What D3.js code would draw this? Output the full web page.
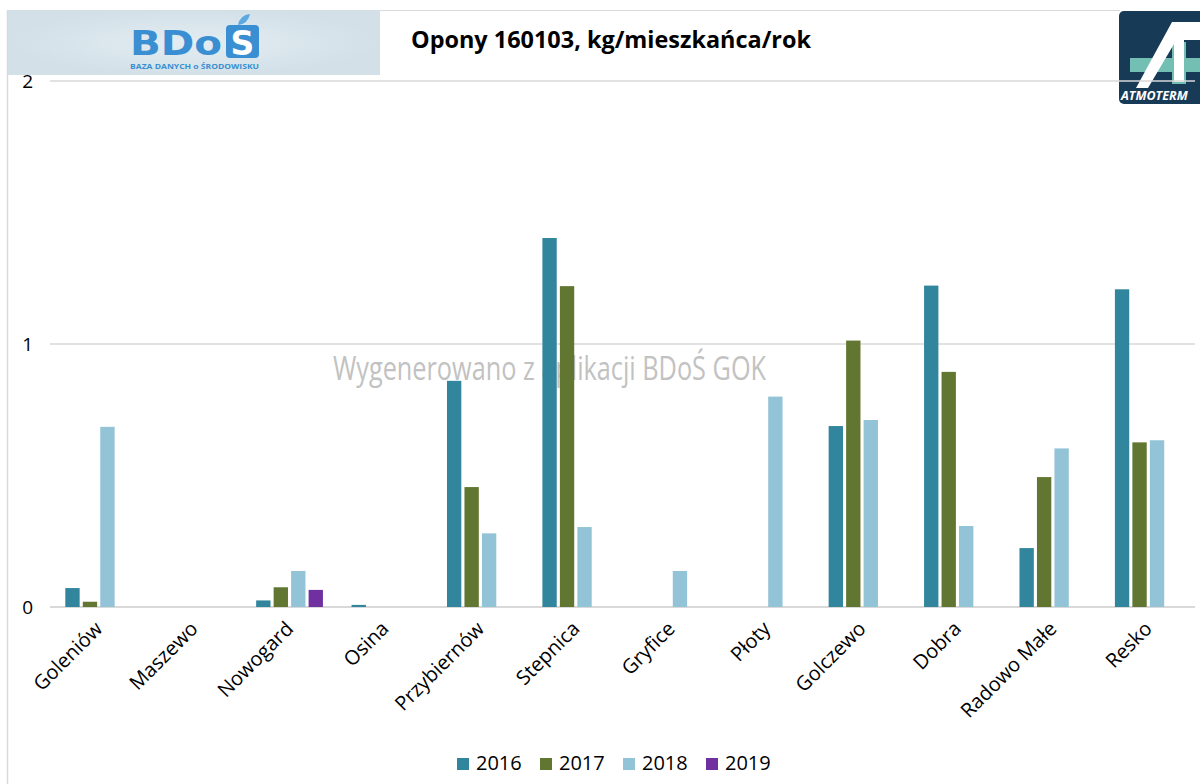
<!DOCTYPE html>
<html>
<head>
<meta charset="utf-8">
<script src="https://cdn.jsdelivr.net/npm/d3@7"></script>
<style>
  body { margin: 0; background: #fff; }
  svg { font-family: "Open Sans", "Liberation Sans", sans-serif; }
</style>
</head>
<body>
<div id="plot"></div>
<script>
// gminy and yearly values (kg per inhabitant per year)
const categories = ["Goleniów", "Maszewo", "Nowogard", "Osina", "Przybiernów", "Stepnica",
  "Gryfice", "Płoty", "Golczewo", "Dobra", "Radowo Małe", "Resko"];
const years = ["2016", "2017", "2018", "2019"];
const values2016 = [0.072, 0, 0.025, 0.008, 0.86, 1.403, 0, 0, 0.688, 1.222, 0.224, 1.208];
const values2017 = [0.02, 0, 0.075, 0, 0.456, 1.22, 0, 0, 1.013, 0.894, 0.494, 0.626];
const values2018 = [0.685, 0, 0.137, 0, 0.28, 0.304, 0.137, 0.80, 0.711, 0.308, 0.603, 0.634];
const values2019 = [0, 0, 0.065, 0, 0, 0, 0, 0, 0, 0, 0, 0];
const yTicks = [0, 1, 2];
const colors = ["#31859c", "#617630", "#93c3d6", "#7030a0"];

const series = [values2016, values2017, values2018, values2019];
const rows = categories.map((c, i) => ({ name: c, vals: series.map(s => s[i]) }));

const W = 1200, H = 784;
const svg = d3.select("#plot").append("svg").attr("width", W).attr("height", H);

// frame lines
svg.append("line").attr("x1", 7.5).attr("x2", 7.5).attr("y1", 10).attr("y2", H)
  .attr("stroke", "#d9d9d9").attr("stroke-width", 1.5);
svg.append("line").attr("x1", 380).attr("x2", 1120).attr("y1", 10.5).attr("y2", 10.5)
  .attr("stroke", "#d9d9d9");

// BDoS banner
const banner = svg.append("g");
const bg = svg.append("defs").append("radialGradient").attr("id", "bannerGrad");
bg.append("stop").attr("offset", "0%").attr("stop-color", "#e3edf2");
bg.append("stop").attr("offset", "100%").attr("stop-color", "#d3e0e8");
banner.append("rect").attr("x", 8).attr("y", 10).attr("width", 372).attr("height", 65)
  .attr("fill", "url(#bannerGrad)");
banner.append("text").attr("x", 130).attr("y", 55)
  .attr("font-family", "DejaVu Sans, sans-serif").attr("font-weight", "bold")
  .attr("font-size", 34).attr("fill", "#3a8fd3")
  .attr("textLength", 92).attr("lengthAdjust", "spacingAndGlyphs").text("BDo");
banner.append("rect").attr("x", 226).attr("y", 25).attr("width", 33).attr("height", 33)
  .attr("rx", 4).attr("fill", "#3a8fd3");
banner.append("text").attr("x", 242.5).attr("y", 55).attr("text-anchor", "middle")
  .attr("font-family", "DejaVu Sans, sans-serif").attr("font-weight", "bold")
  .attr("font-size", 33).attr("fill", "#fff").text("S");
banner.append("path").attr("d", "M238,25 Q240,15 250,14 Q248,24 238,25 Z").attr("fill", "#5aa9e0");
banner.append("text").attr("x", 130).attr("y", 69)
  .attr("font-size", 6.5).attr("font-weight", "bold")
  .attr("textLength", 129).attr("lengthAdjust", "spacingAndGlyphs")
  .attr("fill", "#3a8fd3").text("BAZA DANYCH o ŚRODOWISKU");

// title
svg.append("text").attr("x", 411).attr("y", 48)
  .attr("font-size", 23).attr("font-weight", "bold").attr("fill", "#000")
  .attr("textLength", 400).attr("lengthAdjust", "spacingAndGlyphs")
  .text("Opony 160103, kg/mieszkańca/rok");

// ATMOTERM logo
const logo = svg.append("g");
logo.append("rect").attr("x", 1119).attr("y", 11).attr("width", 100).attr("height", 93)
  .attr("rx", 5).attr("fill", "#173a57");
logo.append("rect").attr("x", 1130).attr("y", 58).attr("width", 80).attr("height", 14).attr("fill", "#73bfb4");
logo.append("rect").attr("x", 1172).attr("y", 42).attr("width", 14).attr("height", 42).attr("fill", "#73bfb4");
logo.append("path").attr("d", "M1136,88 L1172,22 L1200,22 L1200,40 L1184,40 L1184,82 L1174,82 L1174,44 L1148,88 Z")
  .attr("fill", "#fff");
logo.append("text").attr("x", 1121).attr("y", 100).attr("font-size", 12.5)
  .attr("font-weight", "bold").attr("font-style", "italic").attr("fill", "#fff").text("ATMOTERM");

// scales
const margin = { left: 50, right: 1195, top: 81, bottom: 607 };
const x = d3.scaleBand().domain(categories).range([margin.left, margin.right]);
const y = d3.scaleLinear().domain([0, 2]).range([margin.bottom, margin.top]);
const groupW = x.bandwidth() * 0.7;
const xs = d3.scaleBand().domain(years).range([0, groupW]).paddingInner(0.18);

// gridlines
svg.append("g").selectAll("line").data(yTicks).join("line")
  .attr("x1", margin.left).attr("x2", margin.right)
  .attr("y1", d => y(d)).attr("y2", d => y(d))
  .attr("stroke", "#d9d9d9").attr("stroke-width", d => d === 0 ? 2 : 1.3);

// y tick labels
svg.append("g").selectAll("text").data(yTicks).join("text")
  .attr("x", 33).attr("y", d => y(d) + 2).attr("text-anchor", "end")
  .attr("dominant-baseline", "middle").attr("font-size", 19).attr("fill", "#000")
  .text(d => d);

// watermark (sits behind bars)
svg.append("text").attr("x", 333).attr("y", 380)
  .attr("font-size", 33).attr("fill", "#c2c2c2")
  .attr("textLength", 433).attr("lengthAdjust", "spacingAndGlyphs")
  .text("Wygenerowano z aplikacji BDoŚ GOK");

// bars
const groups = svg.append("g").selectAll("g").data(rows).join("g")
  .attr("transform", d => `translate(${x(d.name) + (x.bandwidth() - groupW) / 2 + 1},0)`);
groups.selectAll("rect").data(d => d.vals.map((v, i) => ({ v, i })).filter(e => e.v > 0)).join("rect")
  .attr("x", e => xs(years[e.i]))
  .attr("width", xs.bandwidth())
  .attr("y", e => y(e.v))
  .attr("height", e => y(0) - y(e.v))
  .attr("fill", e => colors[e.i]);

// x labels
svg.append("g").selectAll("text").data(categories).join("text")
  .attr("transform", d => `translate(${x(d) + x.bandwidth() / 2 + 6},${630}) rotate(-45)`)
  .attr("text-anchor", "end").attr("font-size", 20).attr("fill", "#000")
  .text(d => d);

// legend
const legendX = [457, 540, 623, 706];
const legend = svg.append("g").selectAll("g").data(years).join("g")
  .attr("transform", (d, i) => `translate(${legendX[i]},764)`);
legend.append("rect").attr("x", 0).attr("y", -6).attr("width", 12).attr("height", 12)
  .attr("fill", (d, i) => colors[i]);
legend.append("text").attr("x", 19).attr("y", 1).attr("dominant-baseline", "middle")
  .attr("font-size", 20).attr("fill", "#000").text(d => d);
</script>
</body>
</html>
